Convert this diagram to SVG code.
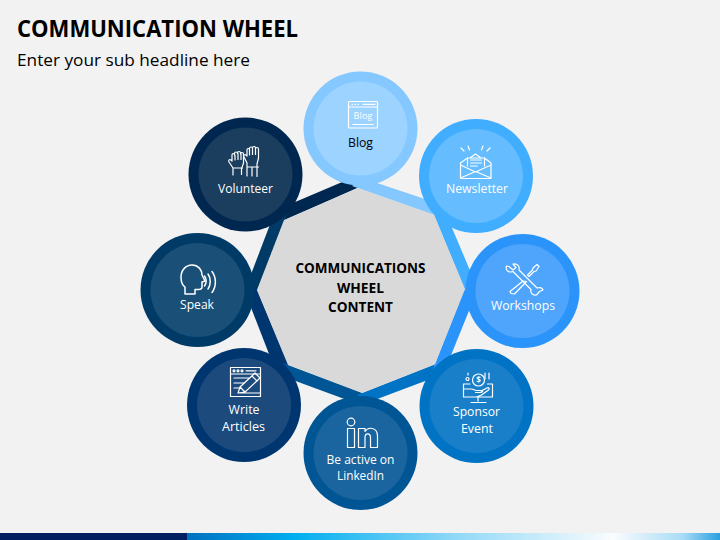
<svg xmlns="http://www.w3.org/2000/svg" width="720" height="540" viewBox="0 0 720 540">
<defs>
<linearGradient id="bar" x1="187" x2="720" y1="0" y2="0" gradientUnits="userSpaceOnUse">
<stop offset="0" stop-color="#0070c0"/><stop offset="0.2" stop-color="#00aeef"/><stop offset="0.5" stop-color="#8fd8f8"/><stop offset="0.8" stop-color="#fafcfe"/><stop offset="0.93" stop-color="#a8dcf6"/><stop offset="1" stop-color="#2a9fe0"/>
</linearGradient>
</defs>
<style>
text{font-family:"Open Sans","Noto Sans","Liberation Sans",sans-serif}
.l{font-size:12.5px;fill:#fff;text-anchor:middle}
.d{fill:#000}
.c{font-size:13.5px;font-weight:700;fill:#000;text-anchor:middle}
.i{fill:none;stroke:#fff;stroke-width:1.2;stroke-linejoin:round;stroke-linecap:round}
</style>
<rect width="720" height="540" fill="#f2f2f2"/>
<rect x="0" y="533" width="188" height="7" fill="#002060"/>
<rect x="187" y="533" width="533" height="7" fill="url(#bar)"/>
<text x="17" y="37" font-size="23" font-weight="700" fill="#000" textLength="281" lengthAdjust="spacingAndGlyphs">COMMUNICATION WHEEL</text>
<text x="17" y="66" font-size="17" fill="#000" textLength="233" lengthAdjust="spacingAndGlyphs">Enter your sub headline here</text>

<g id="connectors">
<polygon points="278,223 364,185 354,177 274,211" fill="#00274f"/>
<polygon points="255,296 287,214 274,214 245,290" fill="#003a66"/>
<polygon points="291,371 255,285 245,292 276,372" fill="#003670"/>
<polygon points="368,395 283,363 282,376 358,404" fill="#005595"/>
<polygon points="441,362 357,395 364,404 441,375" fill="#0073c4"/>
<polygon points="467,283 433,369 445,370 477,291" fill="#2b94fb"/>
<polygon points="432,210 467,295 477,287 444,209" fill="#40adff"/>
<polygon points="352,186 440,217 440,204 362,178" fill="#85c8ff"/>
</g>

<g id="hub">
<polygon points="358,188 434,215 465,289 435,364 362,393 288,365 257,290 284,220" fill="#d9d9d9"/>
<text class="c" x="360.500" y="273" textLength="130" lengthAdjust="spacingAndGlyphs">COMMUNICATIONS</text>
<text class="c" x="360.500" y="293" textLength="47" lengthAdjust="spacingAndGlyphs">WHEEL</text>
<text class="c" x="360.500" y="312" textLength="65" lengthAdjust="spacingAndGlyphs">CONTENT</text>
</g>

<g id="node-blog">
<circle cx="360.500" cy="128.500" r="57" fill="#85c8ff"/><circle cx="360.500" cy="128.500" r="47" fill="#9dd3ff"/>
<g class="i">
<rect x="348.500" y="101.500" width="29" height="26.500" rx="1"/>
<path d="M348.500 107h29M352 104.300h.6M355 104.300h.6M358 104.300h.6M363 104.300h12M353 124.500h20"/>
</g>
<text x="363" y="119" font-size="9" fill="#fff" text-anchor="middle" textLength="19">Blog</text>
<text class="l d" x="360.500" y="147" textLength="25" lengthAdjust="spacingAndGlyphs">Blog</text>
</g>

<g id="node-newsletter">
<circle cx="476" cy="176" r="57" fill="#40adff"/><circle cx="476" cy="176" r="47" fill="#65bcff"/>
<g class="i">
<path d="M470 158l5.500-4 5.500 4M467.500 166v-8h17v8M470.500 160h11M470.500 163h11M470.500 166h7"/>
<path d="M467.500 158l-7 5v15.500h30.500v-15.500l-6.500-5M460.500 165l15 7 15.500-7M460.500 178l15-6.500 15.500 6.500"/>
<path d="M461 148l3 3M468 146l1.500 4M483 146l-1.500 4M490 148l-3 3"/>
</g>
<text class="l" x="477" y="193" textLength="62" lengthAdjust="spacingAndGlyphs">Newsletter</text>
</g>

<g id="node-workshops">
<circle cx="522.500" cy="291" r="57" fill="#2b94fb"/><circle cx="522.500" cy="291" r="47" fill="#4fa5fb"/>
<g class="i">
<path d="M509 266.500l4 3.500 3-2.500-3-3.500c4-1 7 2 6 6l18 18c3-1 5.500 0 6 2l-3.500 1.500-3 3.500c-4 1-6.500-3-5.500-5.500l-18-18c-4 1.500-8-1-6.500-5.500z"/>
<path d="M537 264.500l2 2-3 4.500-2 .5-5 5-1.500-1.500 5-5 .5-2zM523 281l-13 10.500 1 2 3.500 .5 12-12.500z"/>
</g>
<text class="l" x="523" y="310" textLength="64" lengthAdjust="spacingAndGlyphs">Workshops</text>
</g>

<g id="node-sponsor">
<circle cx="476.500" cy="406" r="57" fill="#0073c4"/><circle cx="476.500" cy="406" r="47" fill="#1a7fc9"/>
<g class="i">
<circle cx="478.500" cy="380" r="6"/>
<path d="M470 384h-6.500v13h29v-13h-5M463.500 389h8c2 0 3 1.500 5 1.500h5c2 0 1 2-1 2h-5M481 391l6-3c2-1 3 1 1.500 2l-7 5-5 2M478 397v4M471 402.500h15M489 373v6M485 373v6M466 379a1.500 1.500 0 1 0 3 0 1.500 1.500 0 1 0-3 0M468 375v-2"/>
</g>
<text x="478.500" y="383" font-size="8" font-weight="700" fill="#fff" text-anchor="middle">$</text>
<text class="l" x="476.500" y="416" textLength="47" lengthAdjust="spacingAndGlyphs">Sponsor</text>
<text class="l" x="477" y="433" textLength="32" lengthAdjust="spacingAndGlyphs">Event</text>
</g>

<g id="node-linkedin">
<circle cx="360.500" cy="453" r="57" fill="#005595"/><circle cx="360.500" cy="453" r="47" fill="#1a659f"/>
<g class="i">
<circle cx="351" cy="422" r="3.800"/>
<rect x="347.500" y="428.500" width="7" height="19"/>
<path d="M358.500 428.500h6.500v3c3-5 12.500-4.500 12.500 4.500v11.500h-7v-10c0-5-5.500-4.500-5.500 0v10h-6.500z"/>
</g>
<text class="l" x="360.500" y="464" textLength="68" lengthAdjust="spacingAndGlyphs">Be active on</text>
<text class="l" x="360.500" y="480" textLength="47" lengthAdjust="spacingAndGlyphs">LinkedIn</text>
</g>

<g id="node-write">
<circle cx="244" cy="405" r="57" fill="#003670"/><circle cx="244" cy="405" r="47" fill="#1c4a7c"/>
<g class="i">
<rect x="230.500" y="367.500" width="30" height="29"/>
<path d="M230.500 374h30M233 370.800a1 1 0 1 0 2 0 1 1 0 1 0-2 0M237 370.800a1 1 0 1 0 2 0 1 1 0 1 0-2 0M241 370.800a1 1 0 1 0 2 0 1 1 0 1 0-2 0M246 370.800h10"/>
<path d="M234 378h15M234 383h10M234 388h7"/>
<path d="M238 393l2-6 15-14 5 5-15 14zM240 387l5 5M252 376l5 5M238 393h22"/>
</g>
<text class="l" x="244" y="414" textLength="31" lengthAdjust="spacingAndGlyphs">Write</text>
<text class="l" x="243.500" y="431" textLength="43" lengthAdjust="spacingAndGlyphs">Articles</text>
</g>

<g id="node-speak">
<circle cx="197.500" cy="290" r="57" fill="#003a66"/><circle cx="197.500" cy="290" r="47" fill="#1a4f78"/>
<g class="i" style="stroke-width:1.500">
<path d="M185 294v-7c-3-2-4-6-4-10 0-7 5-12 11-12 6.500 0 10 5 10 10l3 6-3 1v5c0 2-2 2.500-4 2.500h-3v4.500z"/>
<path d="M204.500 276c2 3 2 7 0 10M208 274c3 4 3 11 0 15M212 271.500c4.500 6 4.500 15 0 21"/>
</g>
<text class="l" x="197" y="309" textLength="34" lengthAdjust="spacingAndGlyphs">Speak</text>
</g>

<g id="node-volunteer">
<circle cx="245.500" cy="174.500" r="57" fill="#00274f"/><circle cx="245.500" cy="174.500" r="47" fill="#1b3d5e"/>
<g class="i">
<path d="M233 175v-7l-4-6c-1-2 .5-3 2-2l1 1v-6c0-2 2.500-2 2.500 0v-1.500c0-2 3-2 3 0v-.5c0-2 3-2 3 0v1c0-2 3-2 3 0v9l-2 6v5.500M233 168h9.500M235 155v5M238 153.500v6M241 153.500v6"/>
<path d="M247 176v-13l-3-6c-1-2 .5-3 2-2l1 1v-6c0-2 2.500-2 2.500 0v-1.500c0-2 3-2 3 0v-.5c0-2 3-2 3 0v1c0-2 3-2 3 0v9l-1.500 6v12.500M247 167h11.500M252 167v9M249.500 150v5M252.500 148.500v6M255.500 148.500v6"/>
</g>
<text class="l" x="245.500" y="193" textLength="55" lengthAdjust="spacingAndGlyphs">Volunteer</text>
</g>
</svg>
